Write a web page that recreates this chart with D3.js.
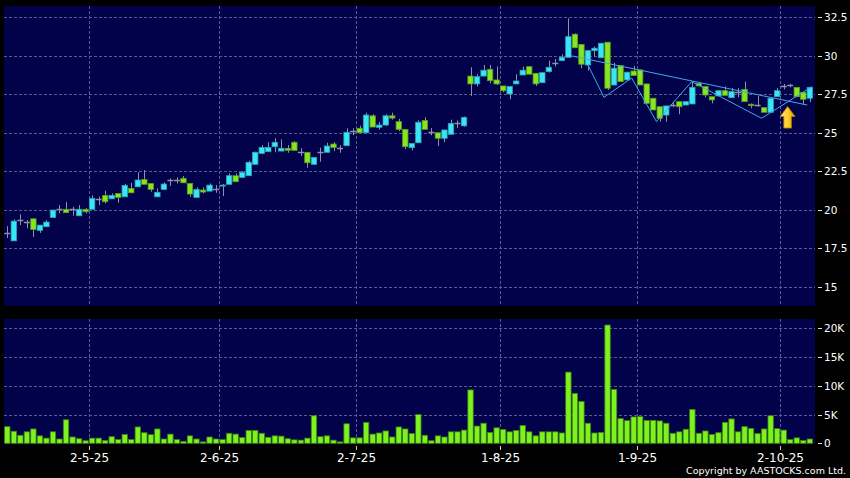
<!DOCTYPE html>
<html><head><meta charset="utf-8">
<script src="https://cdn.jsdelivr.net/npm/d3@7"></script>
<style>html,body{margin:0;padding:0;background:#000;} svg{display:block;}</style>
</head><body><svg id="c" width="850" height="478"></svg>
<script>
// ---- data ----
const opens  = [18.5,17.98,19.33,19.22,19.41,18.66,18.9,19.5,20.03,20.03,20.03,19.61,20.03,20.03,20.67,20.93,20.71,21.06,20.84,21.39,21.49,21.97,21.71,20.84,21.32,21.93,21.93,22.04,21.71,20.8,21.28,21.21,21.34,21.55,21.65,22.21,22.1,22.21,22.95,23.66,23.77,24.09,23.81,23.99,24.38,23.77,23.73,22.95,23.77,23.73,24.27,23.99,24.16,25.11,25.29,25.0,26.1,25.35,25.5,26.1,25.72,25.22,24.03,24.35,25.8,25.07,25.0,24.64,24.9,25.61,25.45,28.68,28.17,28.68,29.12,28.43,28.04,27.52,28.17,28.75,29.29,28.86,28.25,28.97,29.51,29.68,29.9,31.4,30.74,29.4,30.33,29.87,30.88,28.1,29.36,28.43,29.01,29.08,28.17,27.24,26.69,26.15,26.8,27.02,26.8,26.87,28.21,28.0,27.34,27.39,27.73,27.28,27.67,27.82,26.85,26.8,26.63,26.33,27.34,28.04,28.1,27.95,27.63,27.24];
const highs  = [18.93,19.37,19.7,19.33,19.46,19.0,19.33,19.98,20.3,20.5,20.19,20.3,20.1,20.93,20.84,21.23,21.06,21.06,21.67,21.75,22.43,22.58,21.71,21.39,21.78,22.04,22.1,22.19,21.71,21.45,21.45,21.71,21.6,21.67,22.36,22.36,22.5,23.18,23.77,24.2,24.38,24.64,24.57,24.2,24.45,24.0,23.73,23.4,24.03,24.35,24.4,24.2,25.29,25.29,25.45,26.3,26.2,25.7,26.2,26.3,25.9,25.22,24.31,25.8,26.0,25.3,25.0,25.18,25.85,25.8,26.05,29.25,28.8,29.4,29.4,29.3,28.04,28.0,28.8,29.29,29.29,28.86,28.9,29.68,29.79,30.1,32.43,31.45,30.74,30.33,30.6,30.81,30.88,29.55,29.36,28.93,29.34,29.08,28.17,27.24,26.69,26.74,27.02,27.02,27.02,28.3,28.3,28.0,27.34,27.73,28.0,27.9,27.9,28.32,26.9,27.4,26.63,27.24,27.9,28.17,28.17,27.95,27.63,27.95];
const lows   = [18.16,17.98,19.0,18.79,18.24,18.5,18.87,19.5,19.76,19.81,19.61,19.61,19.76,20.03,20.3,20.41,20.71,20.45,20.84,21.1,21.49,21.65,21.17,20.84,21.32,21.54,21.71,21.75,20.84,20.8,21.06,21.21,21.1,20.89,21.65,21.82,22.1,22.21,22.95,23.6,23.77,23.73,23.81,23.7,23.86,23.5,22.73,22.95,23.12,23.73,23.81,23.7,24.16,24.84,25.0,25.0,25.37,25.2,25.45,25.85,25.1,23.94,23.85,24.35,25.22,24.84,24.14,24.4,24.9,25.3,25.4,27.39,28.0,28.68,28.21,28.1,27.63,27.17,28.17,28.75,28.8,28.04,28.25,28.9,29.29,29.68,29.9,30.52,29.19,29.03,29.94,29.87,27.78,28.1,28.32,28.43,28.71,28.1,26.91,26.48,25.72,25.72,26.65,26.2,26.8,26.87,28.04,27.3,26.91,27.39,27.43,27.28,27.3,27.02,26.6,26.7,26.33,26.33,27.34,27.82,27.95,27.34,26.8,27.0];
const closes = [18.5,19.26,19.33,19.22,18.72,19.0,19.2,19.98,20.03,19.81,20.03,20.03,19.87,20.74,20.67,20.52,20.93,20.8,21.58,21.1,21.93,21.65,21.32,21.13,21.67,21.93,21.93,21.75,21.02,21.32,21.15,21.6,21.34,21.6,22.21,21.82,22.43,23.08,23.73,24.05,24.05,24.38,23.99,23.86,23.86,23.77,23.05,23.4,23.77,24.14,24.03,23.99,25.03,25.11,25.0,26.15,25.37,25.5,26.1,25.95,25.22,24.09,24.31,25.68,25.22,25.07,24.64,25.18,25.61,25.61,26.0,28.17,28.64,29.06,28.38,28.17,27.73,28.0,28.36,29.06,28.8,28.17,28.9,29.25,29.51,29.9,31.24,30.52,29.45,30.33,30.49,30.81,27.89,29.19,28.32,28.93,28.71,28.1,26.91,26.48,25.94,26.74,26.8,26.69,27.02,27.95,28.04,27.45,27.13,27.73,27.43,27.67,27.67,27.02,26.76,26.8,26.33,27.24,27.73,28.04,28.1,27.34,27.17,27.95];
const volumes = [2.9,2.1,1.4,2.0,2.5,1.3,0.9,2.0,0.75,4.1,1.1,0.8,0.45,0.9,0.9,0.5,1.15,0.65,1.55,0.65,2.85,1.85,1.5,2.5,0.75,1.6,0.65,0.35,1.3,0.75,0.25,1.1,
  0.75,0.65,1.75,1.6,1.0,2.25,2.25,1.75,1.05,1.3,1.25,0.8,0.6,0.55,0.9,4.8,1.15,1.3,0.55,0.25,3.4,0.95,0.95,3.65,1.6,1.8,2.15,1.1,2.85,2.5,1.7,
  5.0,1.4,0.45,1.3,1.1,2.0,2.0,2.3,9.3,3.0,3.5,1.9,2.7,2.4,2.0,2.25,3.1,2.0,1.3,2.0,2.0,2.0,1.8,12.4,8.7,7.3,3.5,1.8,1.9,
  20.6,9.4,4.3,3.95,4.6,4.65,4.0,4.0,3.9,3.5,1.75,2.0,2.45,5.9,1.75,2.15,1.55,1.85,3.65,4.25,2.0,2.9,2.6,1.7,2.5,4.8,2.55,2.3,0.65,0.95,0.5,0.75]; // thousands
const priceTicks = [15,17.5,20,22.5,25,27.5,30,32.5];
const volTicks = [0,5,10,15,20];
const monthTickIndex = [12,32,53,75,96,118];
const monthTickLabels = ["2-5-25","2-6-25","2-7-25","1-8-25","1-9-25","2-10-25"];
const trendLine = [[86.5,29.99],[122.6,26.8]];
const zigzag = [[89.0,29.4],[91.45,27.3],[95.7,28.55],[99.5,25.72],[104.9,28.32],[115.6,25.94],[123.3,27.99]];
const arrowAt = [119.6,26.7];

// ---- drawing ----
const svg = d3.select("#c");
const W=850,H=478;
const main={x0:4,x1:815,y0:6,y1:306};
const vol={x0:4,x1:815,y0:319,y1:444};
const n = closes.length;
const x = d3.scaleLinear().domain([0,n-1]).range([7.3,809.8]);
const step = x(1)-x(0);
const y = d3.scaleLinear().domain([13.75,33.23]).range([main.y1,main.y0]);
const yv = d3.scaleLinear().domain([0,21.65]).range([443.3,vol.y0]);

svg.append("rect").attr("width",W).attr("height",H).attr("fill","#000");
svg.append("rect").attr("x",main.x0).attr("y",main.y0).attr("width",main.x1-main.x0).attr("height",main.y1-main.y0).attr("fill","#02024a");
svg.append("rect").attr("x",vol.x0).attr("y",vol.y0).attr("width",vol.x1-vol.x0).attr("height",vol.y1-vol.y0).attr("fill","#02024a");

const defs=svg.append("defs");
defs.append("clipPath").attr("id","cm").append("rect").attr("x",main.x0).attr("y",main.y0).attr("width",main.x1-main.x0).attr("height",main.y1-main.y0);
defs.append("clipPath").attr("id","cv").append("rect").attr("x",vol.x0).attr("y",vol.y0).attr("width",vol.x1-vol.x0).attr("height",vol.y1-vol.y0);

const gridCol="#5a5a8e", dash="3,2";
const gx = i => Math.round(x(i)+step/2)+0.5;
// grids main
const gm=svg.append("g");
gm.selectAll("line.h").data(priceTicks).join("line")
  .attr("x1",main.x0).attr("x2",main.x1).attr("y1",d=>Math.round(y(d))+0.5).attr("y2",d=>Math.round(y(d))+0.5)
  .attr("stroke",gridCol).attr("stroke-dasharray",dash);
gm.selectAll("line.v").data(monthTickIndex).join("line")
  .attr("x1",gx).attr("x2",gx).attr("y1",main.y0).attr("y2",main.y1)
  .attr("stroke",gridCol).attr("stroke-dasharray",dash);
// grids vol
const gv=svg.append("g");
gv.selectAll("line.h").data(volTicks.filter(d=>d>0)).join("line")
  .attr("x1",vol.x0).attr("x2",vol.x1).attr("y1",d=>Math.round(yv(d))+0.5).attr("y2",d=>Math.round(yv(d))+0.5)
  .attr("stroke",gridCol).attr("stroke-dasharray",dash);
gv.selectAll("line.v").data(monthTickIndex).join("line")
  .attr("x1",gx).attr("x2",gx).attr("y1",vol.y0).attr("y2",vol.y1)
  .attr("stroke",gridCol).attr("stroke-dasharray",dash);

// volume bars
const bw = 5.4;
svg.append("g").attr("clip-path","url(#cv)").selectAll("rect").data(volumes).join("rect")
  .attr("x",(d,i)=>x(i)-bw/2).attr("width",bw)
  .attr("y",d=>yv(d)).attr("height",d=>Math.max(0.5,yv(0)-yv(d)))
  .attr("fill","#7ef21e").attr("stroke","#3b7f10").attr("stroke-width",0.8);

// candles
const cg = svg.append("g").attr("clip-path","url(#cm)");
const idx = d3.range(n);
cg.selectAll("line.w").data(idx).join("line")
  .attr("x1",i=>Math.round(x(i))+0.5).attr("x2",i=>Math.round(x(i))+0.5)
  .attr("y1",i=>y(highs[i])).attr("y2",i=>y(lows[i]))
  .attr("stroke","#9090aa").attr("stroke-width",1);
const cw=5.4;
cg.selectAll("rect.b").data(idx.filter(i=>closes[i]!==opens[i])).join("rect")
  .attr("x",i=>x(i)-cw/2).attr("width",cw)
  .attr("y",i=>y(Math.max(opens[i],closes[i])))
  .attr("height",i=>Math.max(1,Math.abs(y(opens[i])-y(closes[i]))))
  .attr("fill",i=>closes[i]>opens[i]?"#3ae6f6":"#86e622")
  .attr("stroke",i=>closes[i]>opens[i]?"#2aa6b8":"#5c9a1c").attr("stroke-width",0.8);
cg.selectAll("line.d").data(idx.filter(i=>closes[i]===opens[i])).join("line")
  .attr("x1",i=>x(i)-cw/2-0.3).attr("x2",i=>x(i)+cw/2+0.3)
  .attr("y1",i=>Math.round(y(closes[i]))+0.5).attr("y2",i=>Math.round(y(closes[i]))+0.5)
  .attr("stroke","#9090aa").attr("stroke-width",1.5);

// pattern lines
const lg=d3.line().x(d=>x(d[0])).y(d=>y(d[1]));
cg.append("path").attr("d",lg(trendLine)).attr("fill","none").attr("stroke","#3fa8ea").attr("stroke-width",1);
cg.append("path").attr("d",lg(zigzag)).attr("fill","none").attr("stroke","#3fa8ea").attr("stroke-width",1);

// arrow
const ax=x(arrowAt[0]), ay=y(arrowAt[1]);
const grad=defs.append("linearGradient").attr("id","ag").attr("x1",0).attr("x2",1).attr("y1",0).attr("y2",0);
grad.append("stop").attr("offset","0%").attr("stop-color","#ffe680");
grad.append("stop").attr("offset","55%").attr("stop-color","#ffcc22");
grad.append("stop").attr("offset","100%").attr("stop-color","#d89a00");
svg.append("path").attr("d",`M${ax},${ay} L${ax+7.5},${ay+10} L${ax+3.8},${ay+10} L${ax+3.8},${ay+21.5} L${ax-3.8},${ay+21.5} L${ax-3.8},${ay+10} L${ax-7.5},${ay+10} Z`)
  .attr("fill","url(#ag)").attr("stroke","#b07800").attr("stroke-width",0.8);

// right axes
const font="DejaVu Sans, Verdana, sans-serif";
const ra=svg.append("g");
ra.selectAll("line").data(priceTicks).join("line").attr("x1",818).attr("x2",822)
  .attr("y1",d=>Math.round(y(d))+0.5).attr("y2",d=>Math.round(y(d))+0.5).attr("stroke","#ddd");
ra.selectAll("text").data(priceTicks).join("text").attr("x",824).attr("y",d=>y(d)+4)
  .attr("fill","#fff").attr("font-family",font).attr("font-size","10.5px").text(d=>d3.format("~g")(d));
const rv=svg.append("g");
rv.selectAll("line").data(volTicks).join("line").attr("x1",818).attr("x2",822)
  .attr("y1",d=>Math.round(yv(d))+0.5).attr("y2",d=>Math.round(yv(d))+0.5).attr("stroke","#ddd");
rv.selectAll("text").data(volTicks).join("text").attr("x",824).attr("y",d=>yv(d)+4)
  .attr("fill","#fff").attr("font-family",font).attr("font-size","10.5px").text(d=>d===0?"0":d+"K");

// x axis
const xa=svg.append("g");
xa.selectAll("line").data(monthTickIndex).join("line").attr("x1",gx).attr("x2",gx).attr("y1",446).attr("y2",450).attr("stroke","#ccc");
xa.selectAll("text").data(monthTickIndex).join("text").attr("x",gx).attr("y",462).attr("text-anchor","middle")
  .attr("fill","#fff").attr("font-family",font).attr("font-size","12px").text((d,i)=>monthTickLabels[i]);

svg.append("text").attr("x",686).attr("y",474).attr("fill","#fff")
  .attr("font-family",font).attr("font-size","9.5px").attr("textLength",160).attr("lengthAdjust","spacingAndGlyphs")
  .text("Copyright by AASTOCKS.com Ltd.");
</script></body></html>
